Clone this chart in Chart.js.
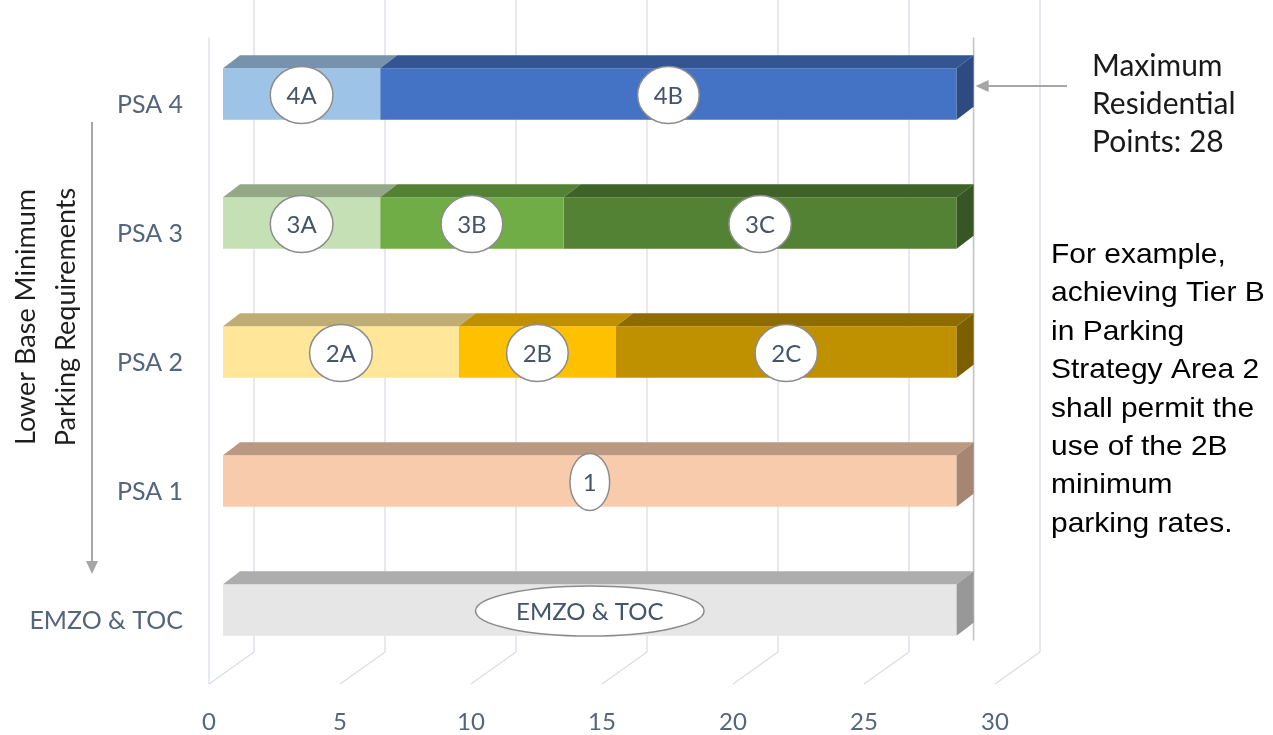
<!DOCTYPE html>
<html>
<head>
<meta charset="utf-8">
<script src="https://cdn.jsdelivr.net/npm/chart.js@4.4.1/dist/chart.umd.min.js"></script>
<style>
  html, body { margin: 0; padding: 0; background: #fff; }
  #wrap { width: 1273px; height: 735px; }
</style>
</head>
<body>
<div id="wrap"><canvas id="parkingChart"></canvas></div>
<script>
// Data
const areas = ['PSA 4', 'PSA 3', 'PSA 2', 'PSA 1', 'EMZO & TOC'];
const tierA = [6, 6, 9, 28, 28];
const tierB = [22, 7, 6, 0, 0];
const tierC = [0, 15, 13, 0, 0];
const tierALabels = ['4A', '3A', '2A', '1', 'EMZO & TOC'];
const tierBLabels = ['4B', '3B', '2B', '', ''];
const tierCLabels = ['', '3C', '2C', '', ''];
const maxPoints = 28;
const axisTitle = ['Lower Base Minimum', 'Parking Requirements'];
const maxNote = ['Maximum', 'Residential', 'Points: 28'];
const exampleNote = ['For example,', 'achieving Tier B', 'in Parking', 'Strategy Area 2',
  'shall permit the', 'use of the 2B', 'minimum', 'parking rates.'];

// Colours
const tierAColors = ['#9DC3E6', '#C5E0B4', '#FFE699', '#F8CBAD', '#E7E6E6'];
const tierBColors = ['#4472C4', '#70AD47', '#FFC000', '#4472C4', '#4472C4'];
const tierCColors = ['#4472C4', '#548235', '#BF9000', '#4472C4', '#4472C4'];
const segLabels = [tierALabels, tierBLabels, tierCLabels];

// 3D look
const BAR_DX = 17, BAR_DY = 13;   // bar depth
const WALL_DX = 31;               // bar front plane -> back wall
const FLOOR_DX = -14;             // bar front plane -> floor front edge
const gridColor = '#d9dde6';

function shade(hex, f) {
    const n = parseInt(hex.slice(1), 16);
    const r = Math.round(((n >> 16) & 255) * f);
    const g = Math.round(((n >> 8) & 255) * f);
    const b = Math.round((n & 255) * f);
    return `rgb(${r},${g},${b})`;
}

function line(ctx, x1, y1, x2, y2) {
    ctx.beginPath(); ctx.moveTo(x1, y1); ctx.lineTo(x2, y2); ctx.stroke();
}

function arrowHead(ctx, x, y, dir) {
    // dir: 'down' or 'left'
    ctx.beginPath();
    if (dir === 'down') {
        ctx.moveTo(x, y); ctx.lineTo(x - 6, y - 13); ctx.lineTo(x + 6, y - 13);
    } else {
        ctx.moveTo(x, y); ctx.lineTo(x + 13, y - 6); ctx.lineTo(x + 13, y + 6);
    }
    ctx.closePath(); ctx.fill();
}

const box3d = {
    id: 'box3d',
    beforeDatasetsDraw(chart) {
        const ctx = chart.ctx;
        const xs = chart.scales.x;
        const area = chart.chartArea;
        const backBottom = area.bottom - 22.5;
        const floorFront = area.bottom + 9.5;
        ctx.save();
        ctx.strokeStyle = gridColor;
        ctx.lineWidth = 1.3;
        // back wall + floor
        xs.ticks.forEach(t => {
            const px = xs.getPixelForValue(t.value);
            line(ctx, px + WALL_DX, 0, px + WALL_DX, backBottom);
            line(ctx, px + FLOOR_DX, floorFront, px + WALL_DX, backBottom);
        });
        // left wall edge
        const x0 = xs.getPixelForValue(0) + FLOOR_DX;
        line(ctx, x0, area.top + 8, x0, floorFront);
        // max points marker
        ctx.strokeStyle = '#c4c4c4';
        ctx.lineWidth = 1.6;
        const xm = xs.getPixelForValue(maxPoints) + BAR_DX;
        line(ctx, xm, area.top + 8, xm, area.bottom - 34);
        ctx.restore();
    },
    afterDatasetsDraw(chart) {
        const ctx = chart.ctx;
        const metas = chart.data.datasets.map((d, i) => chart.getDatasetMeta(i));
        ctx.save();
        areas.forEach((a, i) => {
            let last = -1;
            metas.forEach((m, di) => { if (chart.data.datasets[di].data[i] > 0) last = di; });
            metas.forEach((m, di) => {
                if (!(chart.data.datasets[di].data[i] > 0)) return;
                const el = m.data[i];
                const col = chart.data.datasets[di].backgroundColor[i];
                const x1 = Math.min(el.base, el.x), x2 = Math.max(el.base, el.x);
                const top = el.y - el.height / 2, bot = el.y + el.height / 2;
                // top face
                ctx.fillStyle = shade(col, 0.75);
                ctx.beginPath();
                ctx.moveTo(x1, top); ctx.lineTo(x2, top);
                ctx.lineTo(x2 + BAR_DX, top - BAR_DY); ctx.lineTo(x1 + BAR_DX, top - BAR_DY);
                ctx.closePath(); ctx.fill();
                // right side face
                if (di === last) {
                    ctx.fillStyle = shade(col, 0.66);
                    ctx.beginPath();
                    ctx.moveTo(x2, top); ctx.lineTo(x2 + BAR_DX, top - BAR_DY);
                    ctx.lineTo(x2 + BAR_DX, bot - BAR_DY); ctx.lineTo(x2, bot);
                    ctx.closePath(); ctx.fill();
                }
            });
        });
        // ellipse labels
        ctx.font = '24px Lato';
        ctx.textAlign = 'center';
        ctx.textBaseline = 'middle';
        metas.forEach((m, di) => {
            m.data.forEach((el, i) => {
                const txt = segLabels[di][i];
                if (!txt || !(chart.data.datasets[di].data[i] > 0)) return;
                const cx = (el.base + el.x) / 2, cy = el.y + 1;
                const w = ctx.measureText(txt).width * 1.414 + 20;
                const h = w > 150 ? 50 : 57;
                ctx.beginPath();
                ctx.ellipse(cx, cy, w / 2, h / 2, 0, 0, Math.PI * 2);
                ctx.fillStyle = '#fff'; ctx.fill();
                ctx.strokeStyle = '#8c8c8c'; ctx.lineWidth = 1.5; ctx.stroke();
                ctx.fillStyle = '#44546A';
                ctx.fillText(txt, cx, cy + 1);
            });
        });
        ctx.restore();
    },
    afterDraw(chart) {
        const ctx = chart.ctx;
        const xs = chart.scales.x;
        ctx.save();
        // rotated axis title
        ctx.font = '27px Lato';
        ctx.fillStyle = '#1e1e1e';
        ctx.textAlign = 'center';
        ctx.textBaseline = 'middle';
        axisTitle.forEach((t, k) => {
            ctx.save();
            ctx.translate(26 + k * 40, 317);
            ctx.rotate(-Math.PI / 2);
            ctx.fillText(t, 0, 0);
            ctx.restore();
        });
        // downward arrow
        ctx.strokeStyle = '#a6a6a6'; ctx.fillStyle = '#a6a6a6'; ctx.lineWidth = 2;
        line(ctx, 92, 122, 92, 562);
        arrowHead(ctx, 92, 574, 'down');
        // max arrow
        const tip = xs.getPixelForValue(maxPoints) + BAR_DX + 2;
        line(ctx, tip + 8, 86, 1067, 86);
        arrowHead(ctx, tip, 86, 'left');
        // notes
        ctx.textAlign = 'left';
        ctx.textBaseline = 'alphabetic';
        ctx.fillStyle = '#1a1a1a';
        ctx.font = '30px Lato';
        maxNote.forEach((t, k) => ctx.fillText(t, 1092, 76 + k * 38));
        ctx.fillStyle = '#000';
        ctx.font = '28px "Liberation Sans", Arial, sans-serif';
        exampleNote.forEach((t, k) => {
            ctx.save();
            ctx.translate(1051, 263 + k * 38.4);
            ctx.scale(1.07, 1);
            ctx.fillText(t, 0, 0);
            ctx.restore();
        });
        ctx.restore();
    }
};

Chart.defaults.font.family = 'Lato, "Open Sans", sans-serif';

new Chart(document.getElementById('parkingChart'), {
    type: 'bar',
    data: {
        labels: areas,
        datasets: [
            { label: 'Tier A', data: tierA, backgroundColor: tierAColors },
            { label: 'Tier B', data: tierB, backgroundColor: tierBColors },
            { label: 'Tier C', data: tierC, backgroundColor: tierCColors }
        ]
    },
    options: {
        indexAxis: 'y',
        responsive: true,
        maintainAspectRatio: false,
        animation: false,
        layout: { padding: { top: 29.5, right: 264, bottom: 0, left: 0 } },
        datasets: { bar: { barPercentage: 0.4, categoryPercentage: 1.0, borderWidth: 0 } },
        plugins: { legend: { display: false }, tooltip: { enabled: false } },
        scales: {
            x: {
                stacked: true, min: 0, max: 30,
                ticks: { stepSize: 5, labelOffset: FLOOR_DX, padding: 33, color: '#55657c', font: { size: 24 } },
                grid: { display: false, drawTicks: false },
                border: { display: false },
                afterFit: s => { s.height = 60.5; s.paddingLeft = 0; s.paddingRight = 0; }
            },
            y: {
                stacked: true,
                ticks: { padding: 40, labelOffset: 11, color: '#55657c', font: { size: 25 } },
                grid: { display: false, drawTicks: false },
                border: { display: false },
                afterFit: s => { s.width = 223; s.paddingTop = 0; s.paddingBottom = 0; }
            }
        }
    },
    plugins: [box3d]
});
</script>
</body>
</html>
